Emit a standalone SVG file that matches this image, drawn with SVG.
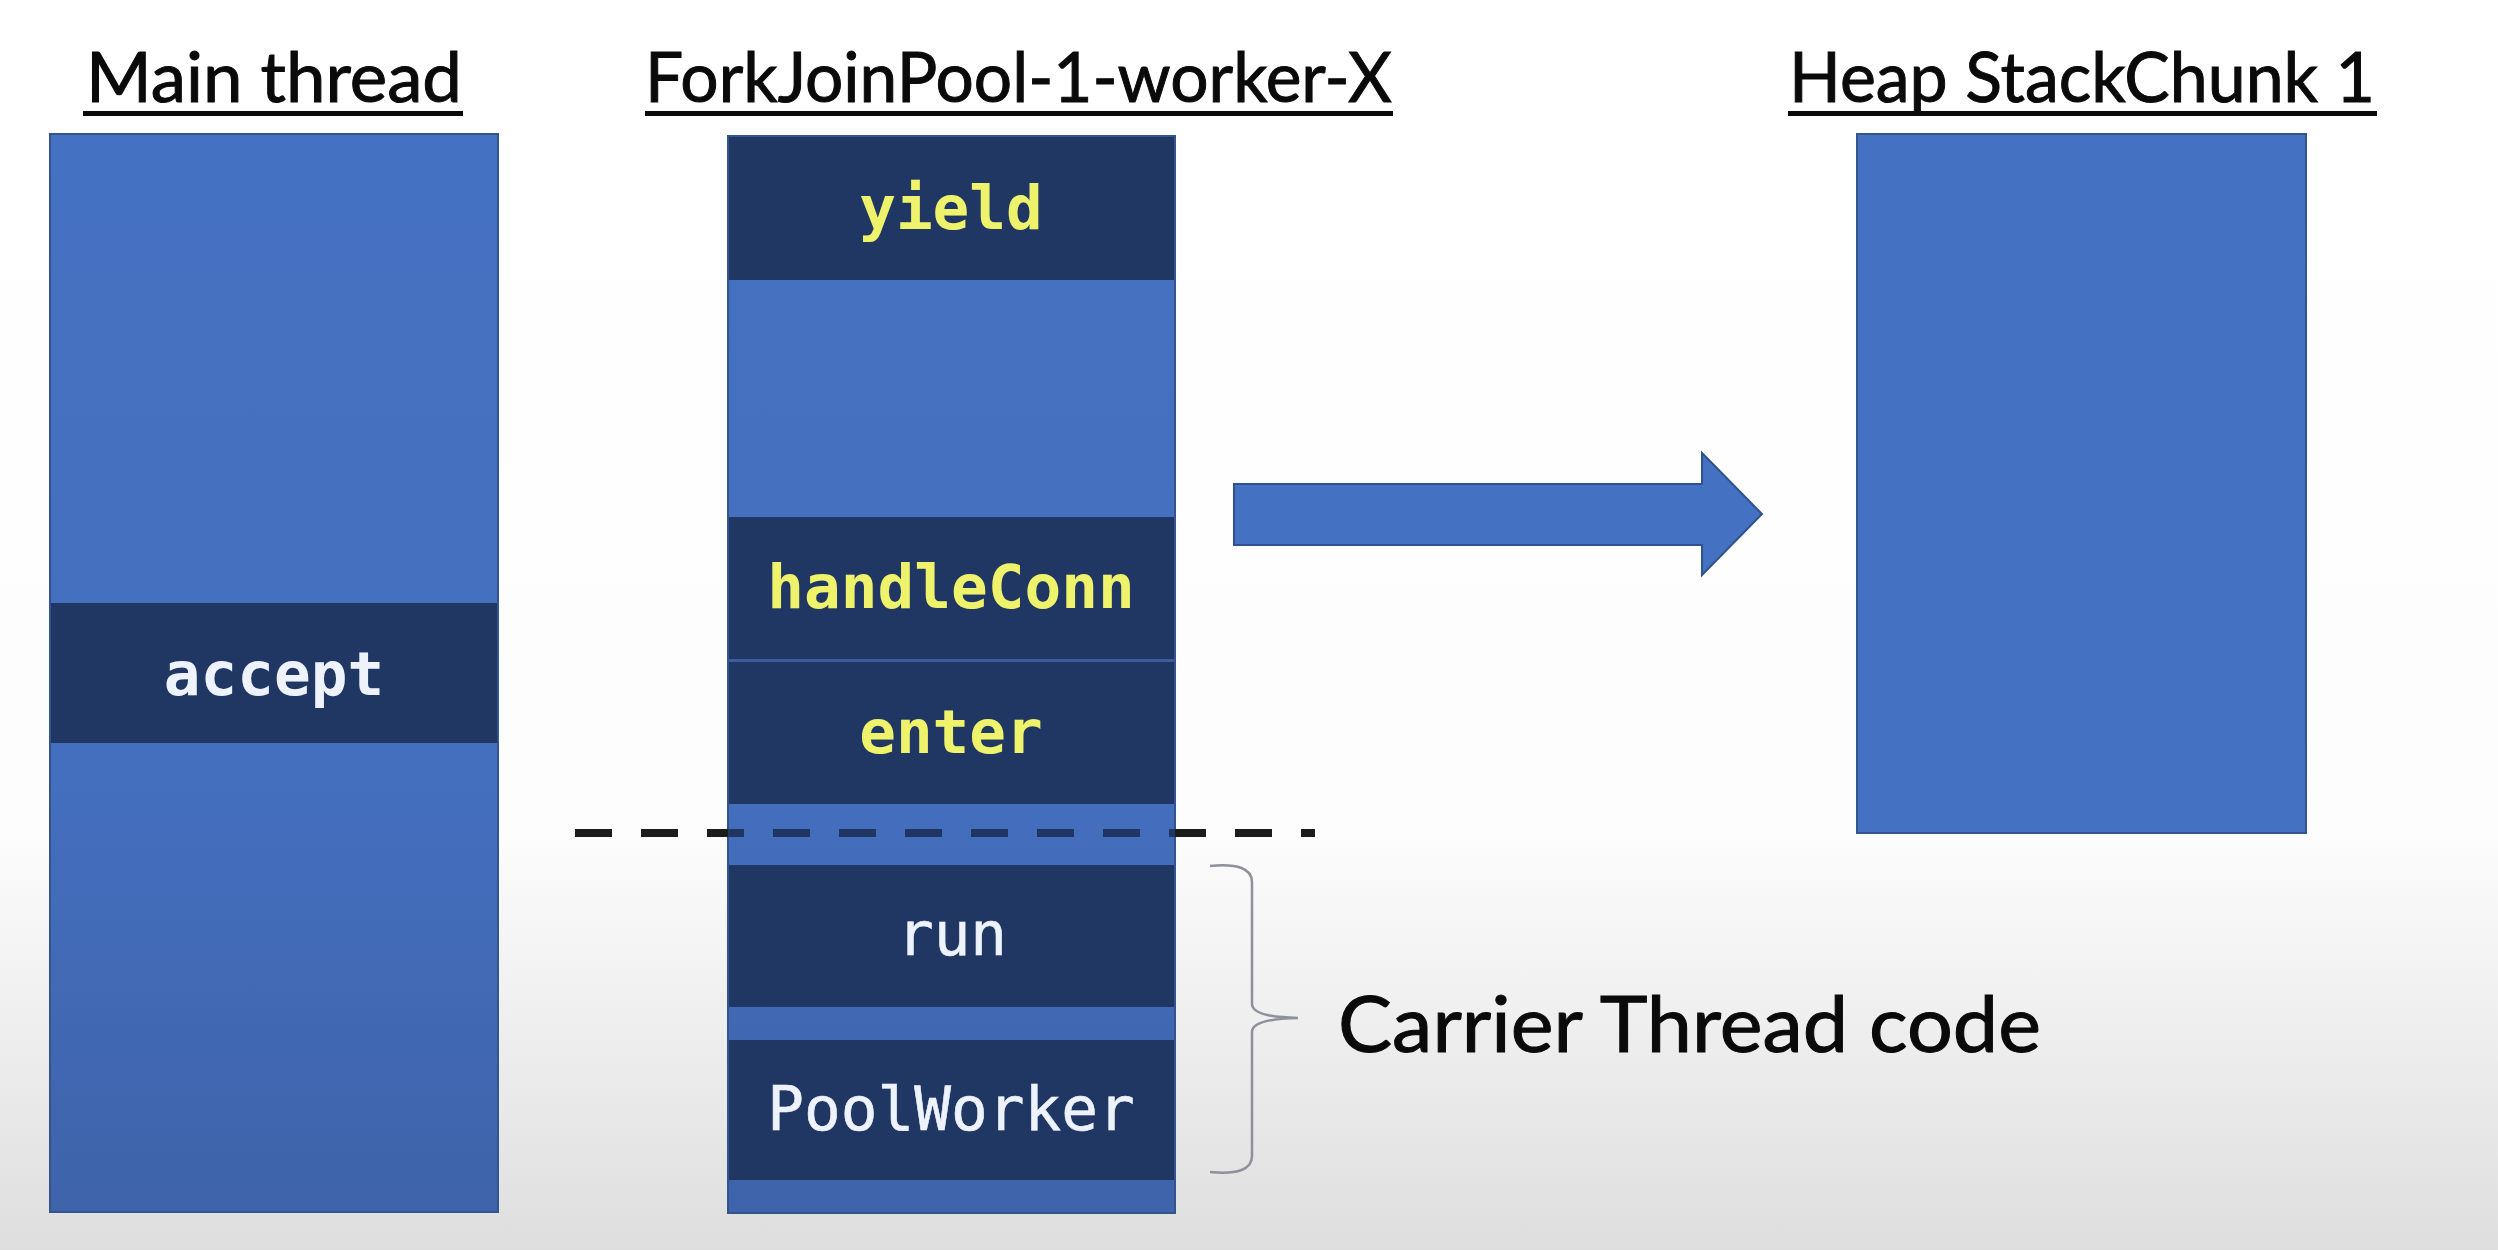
<svg xmlns="http://www.w3.org/2000/svg" width="2498" height="1250" viewBox="0 0 2498 1250">
  <defs>
    <linearGradient id="bg" x1="0" y1="0" x2="0" y2="1">
      <stop offset="0" stop-color="#ffffff"/>
      <stop offset="0.66" stop-color="#fdfdfd"/>
      <stop offset="1" stop-color="#dedede"/>
    </linearGradient>
    <linearGradient id="blueFill" x1="0" y1="0" x2="0" y2="1">
      <stop offset="0" stop-color="#4571c2"/>
      <stop offset="0.6" stop-color="#446fbe"/>
      <stop offset="1" stop-color="#3e63aa"/>
    </linearGradient>
  </defs>
  <style>
    .title { font-family: Lato, "Open Sans", "Liberation Sans", sans-serif; font-size: 70px; fill: #0a0a0a; stroke: #0a0a0a; stroke-width: 1; }
    .uline { fill: #0a0a0a; }
    .stack { fill: url(#blueFill); stroke: #34548e; stroke-width: 2; }
    .frame { fill: #203763; }
    .sep { fill: #3c5c9c; }
    .mono { font-family: "DejaVu Sans Mono", "Liberation Mono", monospace; font-size: 61px; text-anchor: middle; }
    .yel { fill: #eff36c; font-weight: bold; }
    .wht { fill: #eef3fb; stroke: #eef3fb; stroke-width: 0.6; }
    .whtb { fill: #eef3fb; font-weight: bold; }
    .label { font-family: Lato, "Open Sans", "Liberation Sans", sans-serif; font-size: 78px; fill: #0a0a0a; stroke: #0a0a0a; stroke-width: 1; }
    .brace { fill: none; stroke: #8c919a; stroke-width: 2.5; }
  </style>

  <rect x="0" y="0" width="2498" height="1250" fill="url(#bg)"/>

  <!-- Main thread stack -->
  <g id="main-thread">
    <text class="title" x="86" y="102" textLength="376" lengthAdjust="spacingAndGlyphs">Main thread</text>
    <rect class="uline" x="83" y="111" width="380" height="5"/>
    <rect class="stack" x="50" y="134" width="448" height="1078"/>
    <g id="frame-accept">
      <rect class="frame" x="51" y="603" width="446" height="140"/>
      <text class="mono whtb" x="274" y="695">accept</text>
    </g>
  </g>

  <!-- Worker thread stack -->
  <g id="worker-thread">
    <text class="title" x="645" y="102" textLength="747" lengthAdjust="spacingAndGlyphs">ForkJoinPool-1-worker-X</text>
    <rect class="uline" x="645" y="111" width="748" height="5"/>
    <rect class="stack" x="728" y="136" width="447" height="1077"/>
    <g id="frame-yield">
      <rect class="frame" x="729" y="137" width="445" height="143"/>
      <text class="mono yel" x="951" y="229">yield</text>
    </g>
    <g id="frame-handleConn">
      <rect class="frame" x="729" y="517" width="445" height="142"/>
      <text class="mono yel" x="951" y="608">handleConn</text>
    </g>
    <rect class="sep" x="729" y="659" width="445" height="3"/>
    <g id="frame-enter">
      <rect class="frame" x="729" y="662" width="445" height="142"/>
      <text class="mono yel" x="951" y="753">enter</text>
    </g>
    <g id="frame-run">
      <rect class="frame" x="729" y="865" width="445" height="142"/>
      <text class="mono wht" x="952" y="955">run</text>
    </g>
    <g id="frame-poolworker">
      <rect class="frame" x="729" y="1040" width="445" height="140"/>
      <text class="mono wht" x="951" y="1130">PoolWorker</text>
    </g>
  </g>

  <!-- Heap stack chunk -->
  <g id="heap-stackchunk">
    <text class="title" x="1789" y="102" textLength="586" lengthAdjust="spacingAndGlyphs">Heap StackChunk 1</text>
    <rect class="uline" x="1788" y="111" width="589" height="5"/>
    <rect class="stack" x="1857" y="134" width="449" height="699" style="fill:#4471c2"/>
  </g>

  <!-- Carrier thread annotation -->
  <g id="carrier-annotation">
    <path class="brace" d="M1210,866 Q1252,862 1252,882 L1252,1004 Q1252,1017 1298,1018 Q1252,1019 1252,1032 L1252,1156 Q1252,1176 1210,1172"/>
    <text class="label" x="1338" y="1052" textLength="703" lengthAdjust="spacingAndGlyphs">Carrier Thread code</text>
  </g>

  <!-- Connectors -->
  <g id="connectors">
    <polygon points="1234,484 1702,484 1702,453 1762,514 1702,575 1702,545 1234,545" fill="#4571c2" stroke="#2f528f" stroke-width="2"/>
    <line x1="575" y1="833" x2="1315" y2="833" stroke="#1c1c1c" stroke-width="8" stroke-dasharray="37 29"/>
    <line x1="728" y1="833" x2="1175" y2="833" stroke="#1f3562" stroke-width="8" stroke-dasharray="37 29" stroke-dashoffset="21"/>
  </g>
</svg>
